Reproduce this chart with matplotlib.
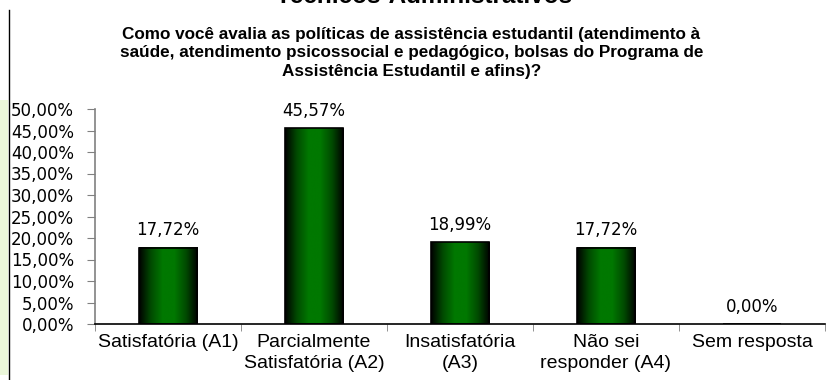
import numpy as np
import matplotlib.pyplot as plt
from matplotlib.colors import LinearSegmentedColormap
from matplotlib.patches import Rectangle
from matplotlib.lines import Line2D

categories = ["Satisfatória (A1)", "Parcialmente\nSatisfatória (A2)",
              "Insatisfatória\n(A3)", "Não sei\nresponder (A4)", "Sem resposta"]
values = [17.72, 45.57, 18.99, 17.72, 0.00]
y_ticks = [0, 5, 10, 15, 20, 25, 30, 35, 40, 45, 50]

title = "Técnicos-Administrativos"
subtitle = ("Como você avalia as políticas de assistência estudantil (atendimento à\n"
            "saúde, atendimento psicossocial e pedagógico, bolsas do Programa de\n"
            "Assistência Estudantil e afins)?")

def pct(v):
    return f"{v:.2f}%".replace(".", ",")

fig = plt.figure(figsize=(8.28, 3.8), dpi=100)

# light green strip and vertical rule on the left edge
fig.patches.append(Rectangle((0, 0.013), 8 / 828, 0.724, transform=fig.transFigure,
                             facecolor="#ebf7da", edgecolor="none"))
fig.lines.append(Line2D([9 / 828, 9 / 828], [0, 1 - 10 / 380], transform=fig.transFigure,
                        color="black", linewidth=1))

# main title sits mostly above the top edge, as in the source image
fig.text(0.512, 1 - 3 / 380, title, ha="center", va="baseline",
         fontsize=17.5, fontweight="bold", family="Liberation Sans")
fig.text(0.497, 1 - 53 / 380, subtitle, ha="center", va="center", fontsize=12.3,
         fontweight="bold", family="Liberation Sans", linespacing=1.3)

ax = fig.add_axes([95 / 828, 56 / 380, 730 / 828, 215 / 380])
x = np.arange(len(categories))
bars = ax.bar(x, values, width=0.4, color="none", edgecolor="black",
              linewidth=1.2, zorder=3)

# horizontal dark-bright-dark gradient inside each bar
green = LinearSegmentedColormap.from_list(
    "g", ["#000000", "#004a00", "#007800", "#007800", "#004a00", "#000000"])
grad = np.linspace(0, 1, 256).reshape(1, -1)
for bar in bars:
    if bar.get_height() <= 0:
        continue
    x0, w, h = bar.get_x(), bar.get_width(), bar.get_height()
    ax.imshow(grad, cmap=green, extent=[x0, x0 + w, 0, h], aspect="auto", zorder=2)

for xi, v in zip(x, values):
    ax.annotate(pct(v), (xi, v), xytext=(0, 6), textcoords="offset points",
                ha="center", va="bottom", fontsize=12, family="DejaVu Sans")

ax.set_xlim(-0.5, len(categories) - 0.5)
ax.set_ylim(0, 50)
ax.set_yticks(y_ticks)
ax.set_yticklabels([pct(t) for t in y_ticks], fontsize=12, family="DejaVu Sans")
ax.tick_params(axis="y", length=6, color="#808080", pad=9)

ax.set_xticks(x)
ax.set_xticklabels(categories, fontsize=14, family="Liberation Sans", linespacing=1.35)
ax.set_xticks(np.arange(-0.5, len(categories)), minor=True)
ax.tick_params(axis="x", which="major", length=0, pad=7)
ax.tick_params(axis="x", which="minor", length=5, color="#808080")

for side in ["top", "right"]:
    ax.spines[side].set_visible(False)
ax.spines["left"].set_color("#808080")
ax.spines["left"].set_linewidth(1.2)
ax.spines["bottom"].set_color("black")
ax.spines["bottom"].set_linewidth(1.2)

fig.savefig("out.png", dpi=100)
